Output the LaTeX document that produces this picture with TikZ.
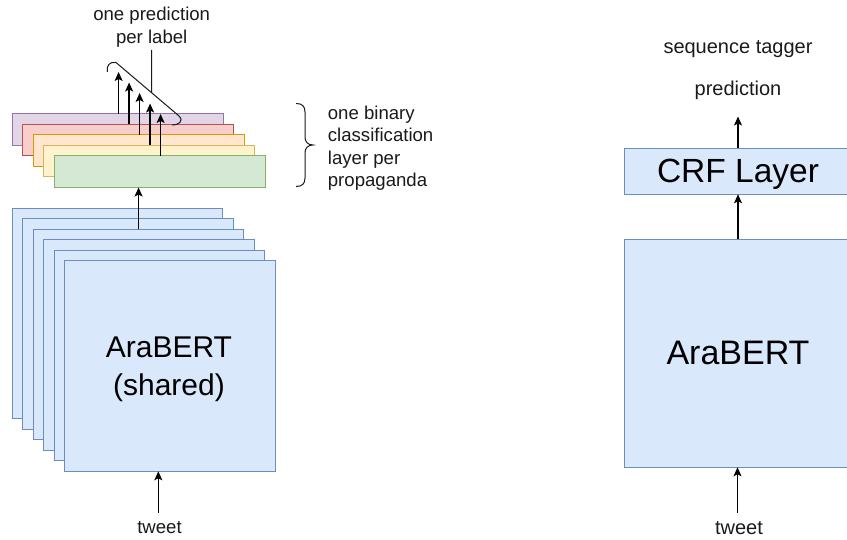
\documentclass[tikz,border=0pt]{standalone}
\usepackage{fontspec}
\setmainfont{Liberation Sans}
\usetikzlibrary{arrows.meta,calc}
\definecolor{bluef}{HTML}{DAE8FC}\definecolor{blued}{HTML}{6C8EBF}
\definecolor{purf}{HTML}{E1D5E7}\definecolor{purd}{HTML}{9673A6}
\definecolor{redf}{HTML}{F8CECC}\definecolor{redd}{HTML}{B85450}
\definecolor{orf}{HTML}{FFE6CC}\definecolor{ord}{HTML}{D79B00}
\definecolor{yelf}{HTML}{FFF2CC}\definecolor{yeld}{HTML}{D6B656}
\definecolor{grf}{HTML}{D5E8D4}\definecolor{grd}{HTML}{82B366}
\definecolor{txt}{HTML}{1A1A1A}
\tikzset{
  box/.style={draw, line width=1pt, inner sep=0pt, outer sep=0pt, anchor=north west},
  layerbox/.style={box, minimum width=211pt, minimum height=31.5pt},
  sqbox/.style={box, draw=blued, fill=bluef, minimum width=210.5pt, minimum height=210.5pt},
  arr/.style={line width=1.3pt, -{Stealth[length=9pt,width=8pt,inset=2pt]}},
  small/.style={font=\fontsize{18.6}{22.5}\selectfont, text=txt, inner sep=0pt},
  smallr/.style={font=\fontsize{20}{24}\selectfont, text=txt, inner sep=0pt},
}
\begin{document}
\begin{tikzpicture}[x=1pt,y=-1pt]
\useasboundingbox (0,0) rectangle (847,540);
% ---- left: shared AraBERT stack
\node[sqbox] (s1) at (12.3,208.3) {};
\node[sqbox] (s2) at (22.8,218.8) {};
\node[sqbox] (s3) at (33.3,229.3) {};
\node[sqbox] (s4) at (43.8,239.8) {};
\node[sqbox] (s5) at (54.3,250.3) {};
\node[sqbox] (s6) at (64.8,260.8) {};
\node[font=\fontsize{30}{38}\selectfont, align=center, inner sep=0pt] (sharedtxt) at (169,369.5) {AraBERT\\(shared)};
% ---- classification layers
\node[layerbox, draw=purd, fill=purf] (l1) at (12.3,114) {};
\node[layerbox, draw=redd, fill=redf] (l2) at (22.8,124.5) {};
\node[layerbox, draw=ord, fill=orf] (l3) at (33.3,135) {};
\node[layerbox, draw=yeld, fill=yelf] (l4) at (43.8,145.5) {};
\node[layerbox, draw=grd, fill=grf] (l5) at (54.3,156) {};
% arrow stack -> green
\coordinate (up) at (s3.north);
\draw[arr] (up) -- (up |- l5.south);
% prediction arrows
\foreach \i in {1,...,5}{
  \coordinate (t\i) at ($(l\i.north)+(0.8,-42)$);
  \draw[arr] ($(l\i.north)+(0.8,0)$) -- (t\i);
}
% callout bracket
\coordinate (b0) at (107.3,72);
\coordinate (d1) at (116,62.5);
\coordinate (d2) at (179,116);
\coordinate (b1) at (172,125);
\draw[line width=1pt, txt] (b0) .. controls (106,66) and (110,61) .. (d1) -- (d2) .. controls (184,121) and (179,125) .. (b1);
\coordinate (lt) at (151.7,50);
\coordinate (lb) at ($(d1)!{(151.7-116)/(179-116)}!(d2)$);
\draw[line width=1pt, txt] (lt) -- (lb);
\node[small, align=center] (predlbl) at (151.7,27) {one prediction\\per label};
% brace
\coordinate (br0) at (296,103.5);
\coordinate (br1) at (296,186.5);
\draw[line width=1pt, txt] (br0) .. controls (302,103.5) and (305,106) .. (305,112) -- (305,137)
  .. controls (305,142) and (308,145) .. (313,145)
  .. controls (308,145) and (305,148) .. (305,153) -- (305,178)
  .. controls (305,184) and (302,186.5) .. (br1);
\node[small, align=left, anchor=north west] (binlbl) at (327.7,105.5) {one binary\\classification\\layer per\\propaganda};
% tweet left
\node[small] (tw1) at (159.5,528) {tweet};
\coordinate (tw1s) at (158.3,513);
\draw[arr] (tw1s) -- (tw1s |- s6.south);
% ---- right: sequence tagger
\node[box, draw=blued, fill=bluef, minimum width=226pt, minimum height=46pt] (crf) at (624.3,148.3) {};
\node[font=\fontsize{33.5}{40}\selectfont, inner sep=0pt] (crftxt) at (738,174) {CRF Layer};
\node[box, draw=blued, fill=bluef, minimum width=226pt, minimum height=228pt] (ara) at (624.3,239.3) {};
\node[font=\fontsize{34}{40}\selectfont, inner sep=0pt] (aratxt) at (738,352.5) {AraBERT};
\node[smallr] (seqlbl) at (738,49) {sequence tagger};
\node[smallr] (predr) at (738,90) {prediction};
\node[smallr] (tw2) at (739,527.7) {tweet};
\coordinate (r1) at (738,116.5);
\draw[arr] (r1 |- crf.north) -- (r1);
\draw[arr] (r1 |- ara.north) -- (r1 |- crf.south);
\coordinate (r2) at (737.5,512.7);
\draw[arr] (r2) -- (r2 |- ara.south);
\end{tikzpicture}
\end{document}
